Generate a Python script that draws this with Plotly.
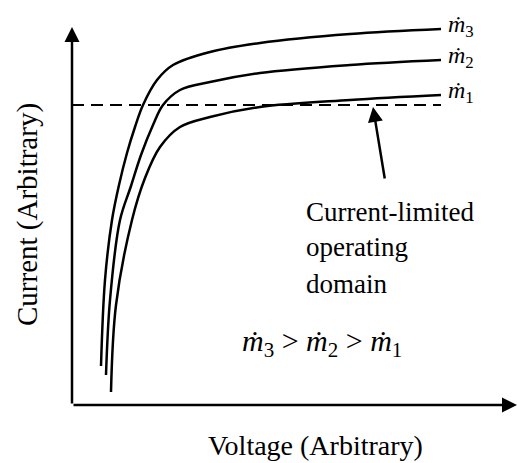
import plotly.graph_objects as go

# Data (arbitrary units)
v_m3 = [29, 33, 40, 47, 55, 63, 71, 85, 101, 138, 188, 278, 369]
i_m3 = [39, 125, 185, 220, 252, 278, 300, 325, 340, 353, 362, 371, 376]
v_m2 = [34, 38, 48, 59, 69, 81, 91, 108, 138, 188, 278, 369]
i_m2 = [30, 105, 185, 219, 250, 280, 300, 315, 323, 332, 340, 345]
v_m1 = [39, 44, 60, 73, 88, 108, 138, 188, 278, 369]
i_m1 = [13, 100, 185, 227, 258, 278, 288, 298, 305, 310]
limit_v = [0, 369]
limit_i = [300, 300]
curve_labels = ["<i>ṁ</i><sub>3</sub>", "<i>ṁ</i><sub>2</sub>", "<i>ṁ</i><sub>1</sub>"]
domain_lines = ["Current-limited", "operating", "domain"]

FONT = "Liberation Serif"
W, H = 517, 463
L, B = 72, 58
XMAX, YMAX = 445, 405

fig = go.Figure()
for vx, iy in [(v_m3, i_m3), (v_m2, i_m2), (v_m1, i_m1)]:
    fig.add_trace(go.Scatter(x=vx, y=iy, mode="lines",
                             line=dict(color="black", width=2.5, shape="spline", smoothing=1.0),
                             showlegend=False, hoverinfo="skip"))
fig.add_trace(go.Scatter(x=limit_v, y=limit_i, mode="lines",
                         line=dict(color="black", width=2, dash="12px,7px"),
                         showlegend=False, hoverinfo="skip"))

anns = []
# axes arrows
anns.append(dict(x=0, y=378, ax=0, ay=0, xref="x", yref="y", axref="x", ayref="y",
                 showarrow=True, arrowhead=2, arrowsize=1.2, arrowwidth=2.5, arrowcolor="black", text=""))
anns.append(dict(x=445, y=0, ax=0, ay=0, xref="x", yref="y", axref="x", ayref="y",
                 showarrow=True, arrowhead=2, arrowsize=1.2, arrowwidth=2.5, arrowcolor="black", text=""))
# pointer arrow
anns.append(dict(x=301, y=298, ax=313, ay=225, xref="x", yref="y", axref="x", ayref="y",
                 showarrow=True, arrowhead=2, arrowsize=1.2, arrowwidth=2.5, arrowcolor="black", text=""))
# curve labels
for lbl, vx, iy in zip(curve_labels, [v_m3, v_m2, v_m1], [i_m3, i_m2, i_m1]):
    anns.append(dict(x=vx[-1] + 5, y=iy[-1] + 3, xref="x", yref="y", text=lbl, showarrow=False,
                     xanchor="left", yanchor="middle", font=dict(family=FONT, size=24, color="black")))
# domain text
for txt, yy in zip(domain_lines, [193, 158, 121]):
    anns.append(dict(x=232, y=yy, xref="x", yref="y", xanchor="left", yanchor="middle",
                     text=txt, showarrow=False, font=dict(family=FONT, size=27, color="black")))
# inequality
anns.append(dict(x=250, y=62, xref="x", yref="y", xanchor="center", yanchor="middle",
                 text="<i>ṁ</i><sub>3</sub> &gt; <i>ṁ</i><sub>2</sub> &gt; <i>ṁ</i><sub>1</sub>",
                 showarrow=False, font=dict(family=FONT, size=30, color="black")))
# axis titles (paper coordinates, outside the plot area)
anns.append(dict(x=243 / XMAX, y=-40 / YMAX, xref="paper", yref="paper", xanchor="center", yanchor="middle",
                 text="Voltage (Arbitrary)", showarrow=False,
                 font=dict(family=FONT, size=28, color="black")))
anns.append(dict(x=-45 / XMAX, y=190 / YMAX, xref="paper", yref="paper", xanchor="center", yanchor="middle",
                 text="Current (Arbitrary)", showarrow=False, textangle=-90,
                 font=dict(family=FONT, size=29, color="black")))

fig.update_layout(
    width=W, height=H, margin=dict(l=L, r=0, t=0, b=B),
    paper_bgcolor="white", plot_bgcolor="white",
    xaxis=dict(range=[0, XMAX], visible=False, fixedrange=True),
    yaxis=dict(range=[0, YMAX], visible=False, fixedrange=True),
    annotations=anns,
)
fig.write_html("out.html")
